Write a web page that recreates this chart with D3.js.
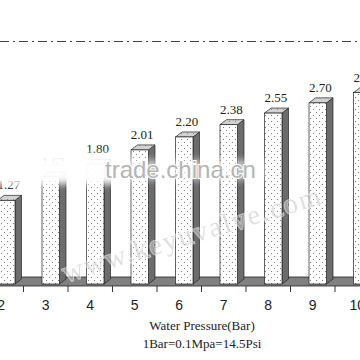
<!DOCTYPE html>
<html><head><meta charset="utf-8">
<script src="https://cdn.jsdelivr.net/npm/d3@7"></script>
<style>html,body{margin:0;padding:0;background:#fff;overflow:hidden}</style>
</head><body>
<div id="chart"></div>
<script>
const categories = ["2","3","4","5","6","7","8","9","10"];
const values = [1.27, 1.62, 1.80, 2.01, 2.20, 2.38, 2.55, 2.70, 2.85];
const valueLabels = ["1.27","1.62","1.80","2.01","2.20","2.38","2.55","2.70","2.85"];
const limitValue = 3.6;
const axisTitle = "Water Pressure(Bar)";
const axisNote = "1Bar=0.1Mpa=14.5Psi";

const W = 360, H = 360;
const svg = d3.select("#chart").append("svg").attr("width", W).attr("height", H);
const defs = svg.append("defs");
const pat = defs.append("pattern").attr("id","dots").attr("patternUnits","userSpaceOnUse")
  .attr("width",6).attr("height",6);
pat.append("rect").attr("width",6).attr("height",6).attr("fill","#fff");
pat.append("circle").attr("cx",1.5).attr("cy",1.5).attr("r",0.55).attr("fill","#666");
pat.append("circle").attr("cx",4.5).attr("cy",4.5).attr("r",0.55).attr("fill","#666");
const pat2 = defs.append("pattern").attr("id","dots2").attr("patternUnits","userSpaceOnUse")
  .attr("width",6).attr("height",6);
pat2.append("rect").attr("width",6).attr("height",6).attr("fill","#d2d2d2");
pat2.append("circle").attr("cx",1.5).attr("cy",1.5).attr("r",0.5).attr("fill","#777");
const blur = defs.append("filter").attr("id","blur").attr("x","-20%").attr("y","-50%").attr("width","140%").attr("height","200%");
blur.append("feGaussianBlur").attr("stdDeviation",3.5);

const x = d3.scaleBand().domain(categories).range([-2.5, 371]).paddingInner(0.607).paddingOuter(0);
const y = d3.scaleLinear().domain([0, 3]).range([287, 82.4]);
const bw = x.bandwidth();
const dx = 6.5, dy = -5;
const baseY = 284;

// limit line
svg.append("line").attr("x1",0).attr("x2",W).attr("y1",y(limitValue)).attr("y2",y(limitValue))
  .attr("stroke","#444").attr("stroke-width",1.2).attr("stroke-dasharray","9,4,2,4");

// floor
svg.append("path").attr("d", `M-10,286 L${W+10},286 L${W+10},277 L-10,277 Z`)
  .attr("fill","#808080").attr("stroke","#222").attr("stroke-width",0.8);

const g = svg.append("g");
categories.forEach((c,i) => {
  const x0 = x(c), yt = y(values[i]);
  g.append("path").attr("d",
    `M${x0+bw},${yt} L${x0+bw+dx},${yt+dy} L${x0+bw+dx},${baseY+dy} L${x0+bw},${baseY} Z`)
    .attr("fill","#6c6c6c").attr("stroke","#222").attr("stroke-width",0.7);
  g.append("path").attr("d",
    `M${x0},${yt} L${x0+dx},${yt+dy} L${x0+bw+dx},${yt+dy} L${x0+bw},${yt} Z`)
    .attr("fill","url(#dots2)").attr("stroke","#222").attr("stroke-width",0.7);
  g.append("rect").attr("x",x0).attr("y",yt).attr("width",bw).attr("height",baseY-yt)
    .attr("fill","url(#dots)").attr("stroke","#222").attr("stroke-width",0.7);
  g.append("text").attr("x",x0+bw/2+2.5).attr("y",yt-11).attr("text-anchor","middle")
    .attr("font-family","'Liberation Serif','Times New Roman',serif").attr("font-size",13)
    .attr("fill","#222").text(valueLabels[i]);
});

// category axis
const step = x.step();
const ax = svg.append("g");
categories.forEach((c,i) => {
  const lx = x(c) + bw/2 - 5;
  ax.append("text").attr("x",lx).attr("y",310).attr("text-anchor","middle")
    .attr("font-family","'Liberation Sans',Arial,sans-serif").attr("font-size",14)
    .attr("fill","#222").text(c);
  ax.append("line").attr("x1",lx+step/2).attr("x2",lx+step/2).attr("y1",286).attr("y2",292)
    .attr("stroke","#333").attr("stroke-width",1);
});

svg.append("text").attr("x",202).attr("y",330).attr("text-anchor","middle")
  .attr("font-family","'Liberation Serif','Times New Roman',serif").attr("font-size",13)
  .attr("fill","#222").text(axisTitle);
svg.append("text").attr("x",202).attr("y",348).attr("text-anchor","middle")
  .attr("font-family","'Liberation Serif','Times New Roman',serif").attr("font-size",13)
  .attr("fill","#222").text(axisNote);

// watermarks
svg.append("rect").attr("x",-10).attr("y",154).attr("width",135).attr("height",30)
  .attr("fill","#fff").attr("opacity",0.97).attr("filter","url(#blur)");
svg.append("rect").attr("x",120).attr("y",160).attr("width",145).attr("height",20)
  .attr("fill","#fff").attr("opacity",0.6).attr("filter","url(#blur)");
svg.append("text").attr("x",105).attr("y",178)
  .attr("font-family","'Liberation Sans',Arial,sans-serif").attr("font-size",24)
  .attr("fill","#b4b4b4").attr("stroke","#fff").attr("stroke-width",2).attr("paint-order","stroke")
  .text("trade.china.cn");
svg.append("text").attr("transform","translate(66,282) rotate(-17)")
  .attr("font-family","'Liberation Serif','Times New Roman',serif").attr("font-size",28)
  .attr("letter-spacing",2)
  .attr("fill","#c8c8c8").attr("stroke","#fff").attr("stroke-width",2.5).attr("paint-order","stroke")
  .attr("opacity",0.55).text("www.keyuvalve.com");
</script>
</body></html>
